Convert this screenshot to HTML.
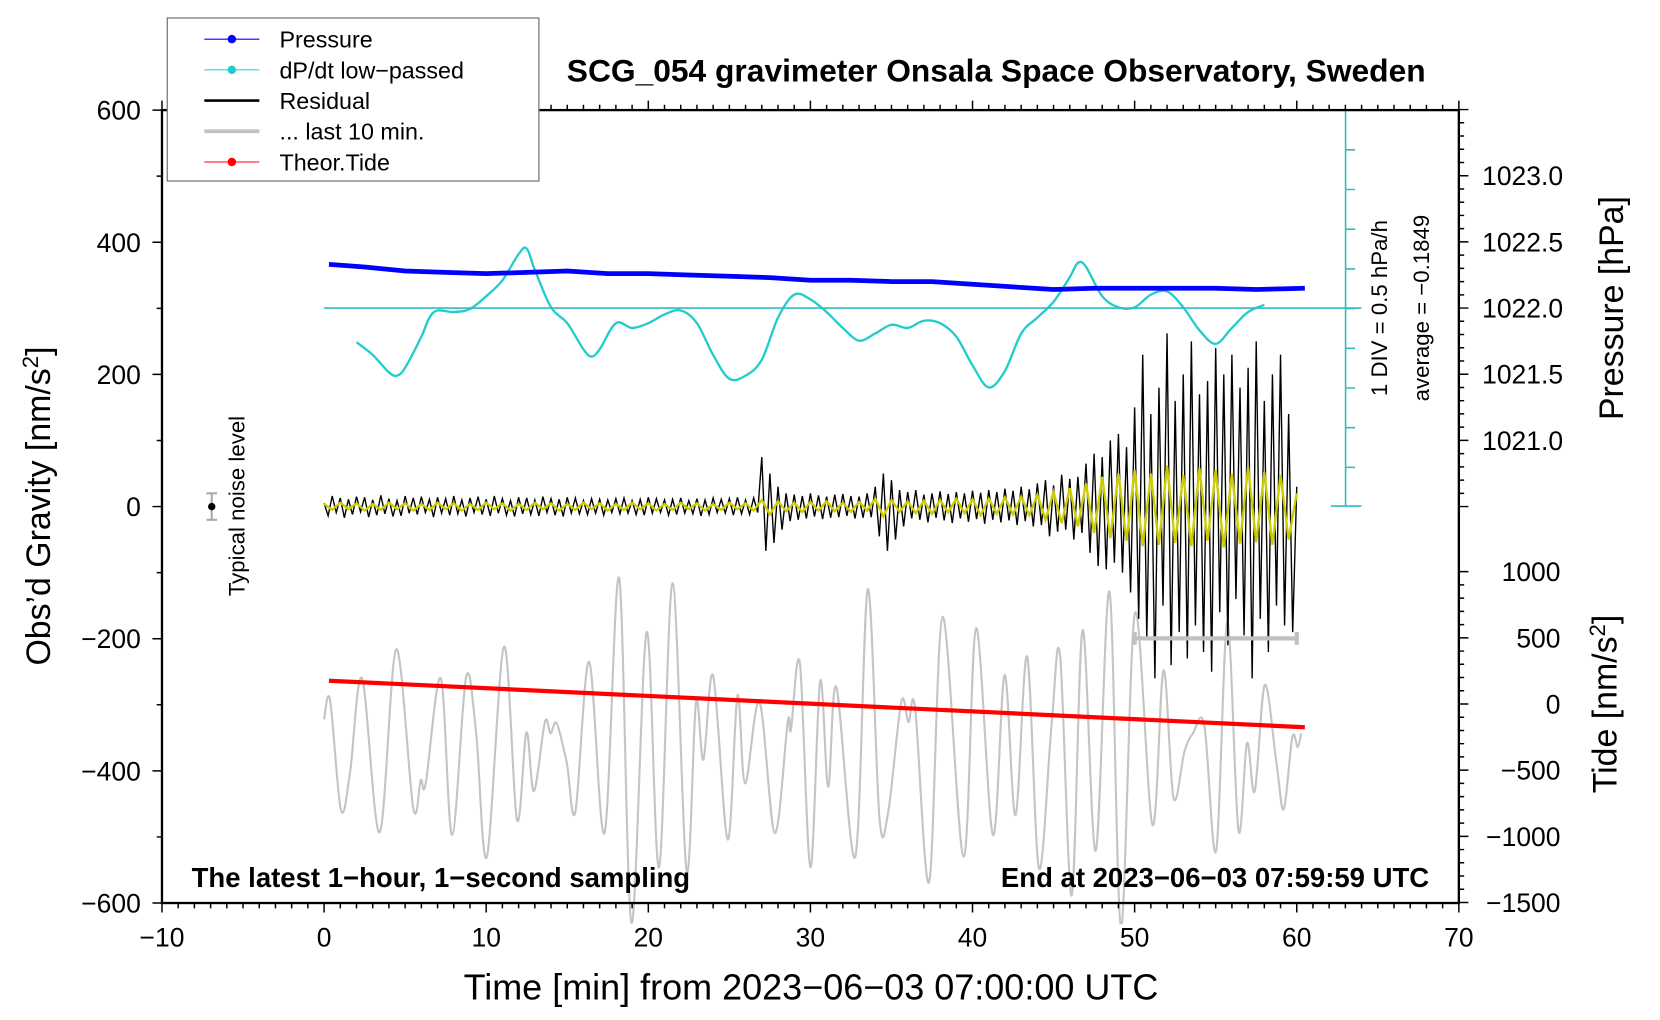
<!DOCTYPE html>
<html><head><meta charset="utf-8">
<style>
html,body{margin:0;padding:0;background:#fff;}
svg{display:block;font-family:"Liberation Sans",Arial,sans-serif;}
</style></head>
<body>
<svg id="chart" width="1660" height="1020" viewBox="0 0 1568 963.5" preserveAspectRatio="none" xmlns="http://www.w3.org/2000/svg">
</svg>
<script>
// ---------- data ----------
const resStep = 0.25;
const residual = [5,-14,16,-9,13,-17,11,-12,15,-8,14,-16,10,-13,17,-11,12,-15,9,-14,16,-10,13,-12,15,-9,11,-16,14,-10,12,-13,16,-11,10,-15,13,-9,15,-12,11,-14,16,-10,12,-13,9,-15,14,-11,13,-12,10,-14,15,-9,12,-13,11,-15,14,-10,13,-11,9,-12,12,-10,11,-13,10,-9,12,-11,13,-10,9,-12,11,-13,14,-10,12,-9,10,-13,11,-12,13,-10,9,-11,12,-14,10,-12,13,-9,11,-10,12,-13,14,-11,10,-12,13,-9,
75,-67,50,-55,30,-35,20,-22,18,-20,16,-18,20,-15,17,-19,15,-17,18,-16,19,-14,16,-18,15,-17,20,-16,
30,-45,50,-67,40,-50,25,-30,
22,-18,25,-20,18,-24,20,-17,23,-21,19,-25,22,-18,20,-23,24,-19,21,-26,25,-20,22,-24,27,-21,24,-28,30,-22,26,-30,
35,-28,40,-45,32,-38,48,-35,42,-50,45,-40,
65,-70,80,-90,75,-95,100,-85,110,-100,90,-130,
150,-170,230,-200,140,-260,180,-150,262,-240,160,-190,200,-230,250,-180,170,-220,190,-250,240,-160,200,-210,230,-140,180,-195,210,-260,250,-170,160,-220,200,-150,230,-180,140,-190,30];
const filtStep = 0.5;
const filtered = [4,-5,6,-4,5,-6,4,-5,6,-4,5,-6,4,-5,6,-4,5,-6,4,-5,6,-4,5,-6,4,-5,6,-4,5,-6,4,-5,6,-4,5,-6,4,-5,6,-4,5,-6,4,-5,6,-4,5,-6,4,-5,6,-4,5,-6,
10,-12,8,-7,6,-8,7,-6,8,-7,6,-8,7,-6,
12,-15,10,-8,
8,-10,9,-11,10,-9,12,-10,11,-13,12,-11,14,-12,15,-13,
18,-20,22,-25,28,-30,
35,-40,45,-48,50,-52,
55,-60,50,-58,62,-55,48,-60,58,-52,55,-62,50,-56,60,-54,52,-58,48,-50,20];
const lastT = [0,0.37,1.04,1.6,2.34,3.43,4.45,5.5,5.96,6.27,7.2,7.9,8.76,9.38,10.04,11.1,11.9,12.48,12.94,13.62,13.97,14.35,14.97,15.5,16.35,17.3,18.2,18.96,19.9,20.66,21.5,22.36,22.94,23.4,24.0,24.9,25.5,25.97,26.86,27.8,28.6,28.8,29.35,30.0,30.6,31.1,31.6,32.77,33.54,34.26,34.8,35.6,36.05,36.46,37.33,38.16,39.45,40.22,41.26,41.98,42.65,43.37,44.1,44.88,45.4,46.12,46.79,47.6,48.45,49.16,50.02,51.1,51.78,52.4,53.07,53.6,54.3,55.03,55.72,56.4,56.93,57.41,58.03,58.75,59.2,59.73,60.06,60.27];
const lastV = [-322,-293,-459,-403,-260,-493,-216,-456,-414,-419,-260,-497,-258,-343,-530,-212,-474,-342,-431,-326,-343,-328,-388,-462,-235,-494,-108,-630,-190,-546,-116,-551,-297,-383,-256,-504,-286,-419,-296,-494,-326,-338,-237,-546,-264,-424,-273,-530,-125,-471,-462,-296,-326,-305,-568,-167,-530,-184,-497,-255,-467,-227,-548,-328,-225,-589,-187,-521,-129,-637,-161,-482,-248,-441,-371,-343,-331,-521,-175,-490,-358,-431,-270,-388,-458,-349,-364,-343];
const tideT = [0.3, 60.5];
const tideV = [176, -176];
const presT = [0.3,2.5,5,7.5,10,12.5,15,17.5,20,22.5,25,27.5,30,32.5,35,37.5,40,42.5,45,47.5,50,52.5,55,57.5,60.5];
const presV = [1022.33,1022.31,1022.28,1022.27,1022.26,1022.27,1022.28,1022.26,1022.26,1022.25,1022.24,1022.23,1022.21,1022.21,1022.20,1022.20,1022.18,1022.16,1022.14,1022.15,1022.15,1022.15,1022.15,1022.14,1022.15];
const dpT = [2,3,4,4.5,5,6,6.5,7,8,9,10,11,12,12.5,13,14,15,16,16.5,17,18,19,20,21,22,23,24,25,26,27,28,29,30,31,32,33,34,35,36,37,38,39,40,41,42,43,44,45,46,46.5,47,48,49,50,51,52,53,54,55,56,57,58];
const dpV = [-0.43,-0.59,-0.81,-0.85,-0.75,-0.36,-0.12,-0.03,-0.05,-0.01,0.15,0.35,0.68,0.75,0.48,0.01,-0.19,-0.52,-0.61,-0.52,-0.19,-0.25,-0.19,-0.08,-0.03,-0.19,-0.59,-0.89,-0.85,-0.65,-0.12,0.17,0.11,-0.05,-0.25,-0.41,-0.32,-0.21,-0.25,-0.16,-0.19,-0.36,-0.72,-1.0,-0.79,-0.32,-0.12,0.08,0.39,0.57,0.52,0.15,0.01,0.01,0.17,0.21,0.01,-0.28,-0.45,-0.25,-0.05,0.04];
const xTicks = [-10,0,10,20,30,40,50,60,70];
const yTicks = [600,400,200,0,-200,-400,-600];
const presTicks = [1023.0,1022.5,1022.0,1021.5,1021.0];
const tideTicks = [1000,500,0,-500,-1000,-1500];

// ---------- scales ----------
const L=153,R=1378,T=104,B=853;
const X = t => L + (t+10)/80*(R-L);
const Y = v => 478.5 - v*(B-T)/1200;
const YP = p => 291 - (p-1022)*125;
const YT = v => 665 - v*0.125;
const YD = v => 291 - v*75;

const svg = document.getElementById('chart');
const NS = 'http://www.w3.org/2000/svg';
function mk(tag, attrs, parent){
  const e = document.createElementNS(NS, tag);
  for (const k in attrs) e.setAttribute(k, attrs[k]);
  (parent||svg).appendChild(e);
  return e;
}
function txt(s, attrs, parent){ const e = mk('text', attrs, parent); e.textContent = s; return e; }
function smooth(pts){
  let d = 'M'+pts[0][0].toFixed(1)+','+pts[0][1].toFixed(1);
  for(let i=0;i<pts.length-1;i++){
    const p0=pts[Math.max(0,i-1)],p1=pts[i],p2=pts[i+1],p3=pts[Math.min(pts.length-1,i+2)];
    const c1=[p1[0]+(p2[0]-p0[0])/6,p1[1]+(p2[1]-p0[1])/6];
    const c2=[p2[0]-(p3[0]-p1[0])/6,p2[1]-(p3[1]-p1[1])/6];
    d+='C'+c1[0].toFixed(1)+','+c1[1].toFixed(1)+' '+c2[0].toFixed(1)+','+c2[1].toFixed(1)+' '+p2[0].toFixed(1)+','+p2[1].toFixed(1);
  }
  return d;
}

// ---------- series ----------
const clip = mk('clipPath',{id:'pc'}); mk('rect',{x:L,y:T,width:R-L,height:B-T+20},clip);
const g = mk('g',{'clip-path':'url(#pc)'});

let el;
el = mk('path',{d:smooth(lastT.map((t,i)=>[X(t),Y(lastV[i])])),fill:'none',stroke:'#c4c4c4','stroke-width':2},g);



el = mk('polyline',{points:tideT.map((t,i)=>X(t)+','+YT(tideV[i])).join(' '),fill:'none',stroke:'#ff0000','stroke-width':4},g);



el = mk('polyline',{points:residual.map((v,i)=>X(i*resStep)+','+Y(v)).join(' '),fill:'none',stroke:'#000','stroke-width':1.3},g);



el = mk('polyline',{points:filtered.map((v,i)=>X(i*filtStep)+','+Y(v)).join(' '),fill:'none',stroke:'#cccc00','stroke-width':2.2},g);



el = mk('line',{x1:X(0),x2:1286,y1:YD(0),y2:YD(0),stroke:'#33bbbb','stroke-width':1.5},svg);



el = mk('path',{d:smooth(dpT.map((t,i)=>[X(t),YD(dpV[i])])),fill:'none',stroke:'#22cccc','stroke-width':2.2},g);



el = mk('polyline',{points:presT.map((t,i)=>X(t)+','+YP(presV[i])).join(' '),fill:'none',stroke:'#0000ff','stroke-width':4.5},g);



// gray 10-min bar
el = mk('path',{d:`M${X(50)},603H${X(60)}M${X(50)},597V609M${X(60)},597V609`,stroke:'#c0c0c0','stroke-width':4,fill:'none'});



// noise bar
el = mk('path',{d:'M200,466V491M195,466H205M195,491H205',stroke:'#aaa','stroke-width':2,fill:'none'});


mk('circle',{cx:200,cy:478.5,r:3.5,fill:'#000'});
el = txt('Typical noise level',{x:0,y:0,'font-size':21,'text-anchor':'middle',transform:'translate(231,478) rotate(-90)'});



// cyan scale bar
let cy='M1271,104V478M1257,104H1286M1257,478H1286';
for(let y=141.5;y<478;y+=37.5) cy+=`M1271,${y}H1280`;
el = mk('path',{d:cy,stroke:'#33bbbb','stroke-width':1.5,fill:'none'});


el = txt('1 DIV = 0.5 hPa/h',{'font-size':21,'text-anchor':'middle',transform:'translate(1310,291) rotate(-90)'});


el = txt('average = \u22120.1849',{'font-size':21,'text-anchor':'middle',transform:'translate(1350,291) rotate(-90)'});



// ---------- axes ----------
el = mk('rect',{x:L,y:T,width:R-L,height:B-T,fill:'none',stroke:'#000','stroke-width':2.2});


let tk='';
for(let t=-10;t<=70;t++){const len=(t%10===0)?9:5;const x=X(t);tk+=`M${x},${B}v${len}M${x},${T}v${-len}`;}
for(let v=-600;v<=600;v+=100){const len=(v%200===0)?9:5;tk+=`M${L},${Y(v)}h${-len}`;}
for(let p=1020.5;p<=1023.51;p+=0.1){const pp=Math.round(p*10)/10;const len=(Math.abs(pp*2-Math.round(pp*2))<1e-6)?9:5;tk+=`M${R},${YP(pp)}h${len}`;}
for(let v=-1500;v<=1000;v+=100){const len=(v%500===0)?9:5;tk+=`M${R},${YT(v)}h${len}`;}
el = mk('path',{d:tk,stroke:'#000','stroke-width':1.4,fill:'none'});



xTicks.forEach(t=>{
  const e = txt(String(t).replace('-','\u2212'),{x:X(t),y:894,'font-size':25,'text-anchor':'middle'});
  
  
});
yTicks.forEach(v=>{
  const e = txt(String(v).replace('-','\u2212'),{x:133,y:Y(v)+9,'font-size':25,'text-anchor':'end'});
  
  
});
presTicks.forEach(p=>{
  const e = txt(p.toFixed(1),{x:1400,y:YP(p)+9,'font-size':25});
  
  
});
tideTicks.forEach(v=>{
  const e = txt(String(v).replace('-','\u2212'),{x:1474,y:YT(v)+9,'font-size':25,'text-anchor':'end'});
  
  
});

el = txt('Time [min] from 2023\u221206\u221203 07:00:00 UTC',{x:766,y:944,'font-size':34,'text-anchor':'middle'});


el = mk('text',{'font-size':32,'text-anchor':'middle',transform:'translate(47,478) rotate(-90)'});
el.innerHTML = 'Obs\u2019d Gravity [nm/s<tspan dy="-11" font-size="21">2</tspan><tspan dy="11">]</tspan>';


el = txt('Pressure [hPa]',{'font-size':32,'text-anchor':'middle',transform:'translate(1533,291) rotate(-90)'});


el = mk('text',{'font-size':32,'text-anchor':'middle',transform:'translate(1527,665) rotate(-90)'});
el.innerHTML = 'Tide [nm/s<tspan dy="-11" font-size="21">2</tspan><tspan dy="11">]</tspan>';



el = txt('SCG_054 gravimeter Onsala Space Observatory, Sweden',{x:941,y:77,'font-size':30,'font-weight':'bold','text-anchor':'middle'});


el = txt('The latest 1\u2212hour, 1\u2212second sampling',{x:181,y:838,'font-size':26,'font-weight':'bold'});


el = txt('End at 2023\u221206\u221203 07:59:59 UTC',{x:1350,y:838,'font-size':26,'font-weight':'bold','text-anchor':'end'});



// ---------- legend ----------
const lg = mk('g',{});


mk('rect',{x:158,y:17,width:351,height:154,fill:'#fff',stroke:'#777','stroke-width':1.2},lg);
const legLabels = ['Pressure','dP/dt low\u2212passed','Residual','... last 10 min.','Theor.Tide'];
const legColors = ['#0000ff','#22cccc','#000','#c0c0c0','#ff0000'];
const legWidths = [1,1,2.5,3.5,1];
const legDots = [true,true,false,false,true];
legLabels.forEach((s,i)=>{
  const y = 37 + i*29;
  const row = mk('g',{},lg);
  
  
  mk('line',{x1:193,x2:245,y1:y,y2:y,stroke:legColors[i],'stroke-width':legWidths[i]},row);
  if(legDots[i]) mk('circle',{cx:219,cy:y,r:4,fill:legColors[i]},row);
  txt(s,{x:264,y:y+8,'font-size':22},row);
});
</script>
</body></html>
